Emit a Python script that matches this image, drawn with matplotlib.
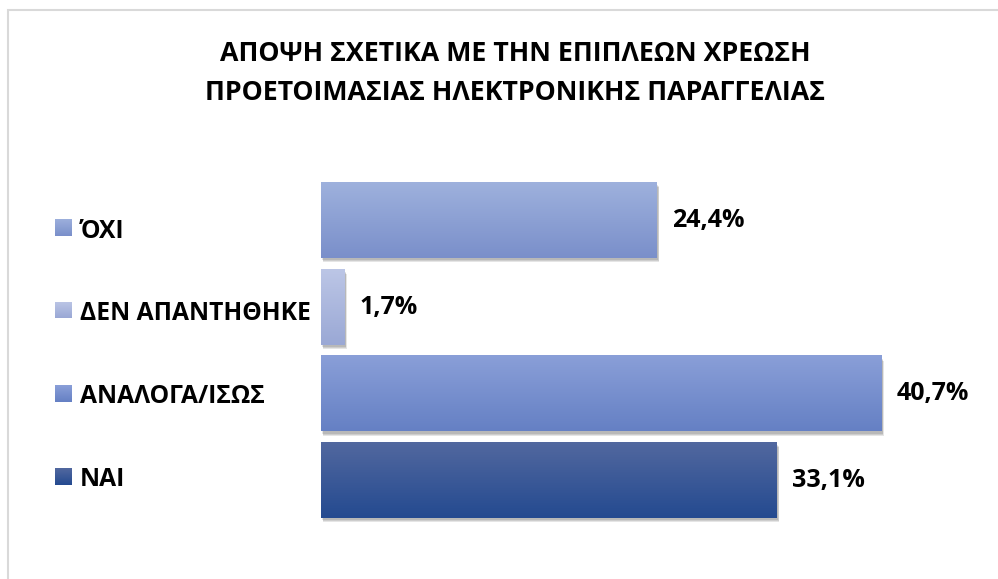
import matplotlib
matplotlib.use("Agg")
import matplotlib.pyplot as plt
import numpy as np
from matplotlib.patches import Rectangle
from matplotlib.colors import LinearSegmentedColormap

plt.rcParams['font.family'] = ['Open Sans', 'DejaVu Sans']

title_lines = ["ΑΠΟΨΗ ΣΧΕΤΙΚΑ ΜΕ ΤΗΝ ΕΠΙΠΛΕΩΝ ΧΡΕΩΣΗ",
               "ΠΡΟΕΤΟΙΜΑΣΙΑΣ ΗΛΕΚΤΡΟΝΙΚΗΣ ΠΑΡΑΓΓΕΛΙΑΣ"]
categories = ["ΝΑΙ", "ΑΝΑΛΟΓΑ/ΙΣΩΣ", "ΔΕΝ ΑΠΑΝΤΗΘΗΚΕ", "ΌΧΙ"]
values = [33.1, 40.7, 1.7, 24.4]
labels = ["33,1%", "40,7%", "1,7%", "24,4%"]
top_colors = ["#52689f", "#8a9fd8", "#bcc6e6", "#9eb1dd"]
bottom_colors = ["#244a90", "#6580c4", "#9aa8d5", "#7a8fca"]

W, H = 998, 579
fig = plt.figure(figsize=(W / 100, H / 100), dpi=100)
fig.patch.set_facecolor("white")

# chart border
fig.add_artist(Rectangle((7.5 / W, 0 - 0.01), 1.0, (H - 10.5) / H + 0.01,
                         transform=fig.transFigure, fill=False,
                         edgecolor="#d9d9d9", linewidth=1.5))

ax = fig.add_axes([321 / W, (H - 524) / H, 620 / W, 347 / H])
ax.axis("off")

bar_h = 0.865
ypos = np.arange(len(categories))
bars = ax.barh(ypos, values, height=bar_h, color="none", edgecolor="none", zorder=3)

for i, b in enumerate(bars):
    x0, y0 = b.get_x(), b.get_y()
    w, h = b.get_width(), b.get_height()
    # soft shadow
    for k, a in enumerate([0.10, 0.10, 0.10]):
        ax.add_patch(Rectangle((x0 + 0.08 + 0.05 * k, y0 - 0.025 - 0.012 * k), w, h,
                               facecolor="black", alpha=a, edgecolor="none", zorder=1))
    cmap = LinearSegmentedColormap.from_list("g%d" % i, [bottom_colors[i], top_colors[i]])
    grad = np.linspace(0, 1, 256).reshape(-1, 1)
    ax.imshow(grad, extent=(x0, x0 + w, y0, y0 + h), origin="lower",
              cmap=cmap, aspect="auto", zorder=2, interpolation="bilinear")
    ax.annotate(labels[i], (x0 + w, ypos[i]), xytext=(11, 0), textcoords="offset points",
                va="center", ha="left", fontsize=18, fontweight="bold", color="black")

ax.set_xlim(0, 620 / 13.77)
ax.set_ylim(-0.5, 3.5)

# legend (manual)
leg_y = [476.5, 393.5, 310, 228]
for i, cat in enumerate(categories):
    yc = leg_y[i]
    cmap = LinearSegmentedColormap.from_list("l%d" % i, [bottom_colors[i], top_colors[i]])
    lax = fig.add_axes([55 / W, (H - yc - 8.5) / H, 17 / W, 17 / H])
    lax.imshow(np.linspace(0, 1, 64).reshape(-1, 1), origin="lower", cmap=cmap,
               aspect="auto", extent=(0, 1, 0, 1))
    lax.axis("off")
    fig.text(80 / W, (H - yc) / H, cat, ha="left", va="center_baseline",
             fontsize=17.7, fontweight="bold", color="black")

for yl, line in zip([51, 90], title_lines):
    fig.text(515 / W, (H - yl) / H, line, ha="center", va="center_baseline",
             fontsize=19.3, fontweight="bold", color="black")

fig.savefig("out.png", dpi=100, facecolor="white")
